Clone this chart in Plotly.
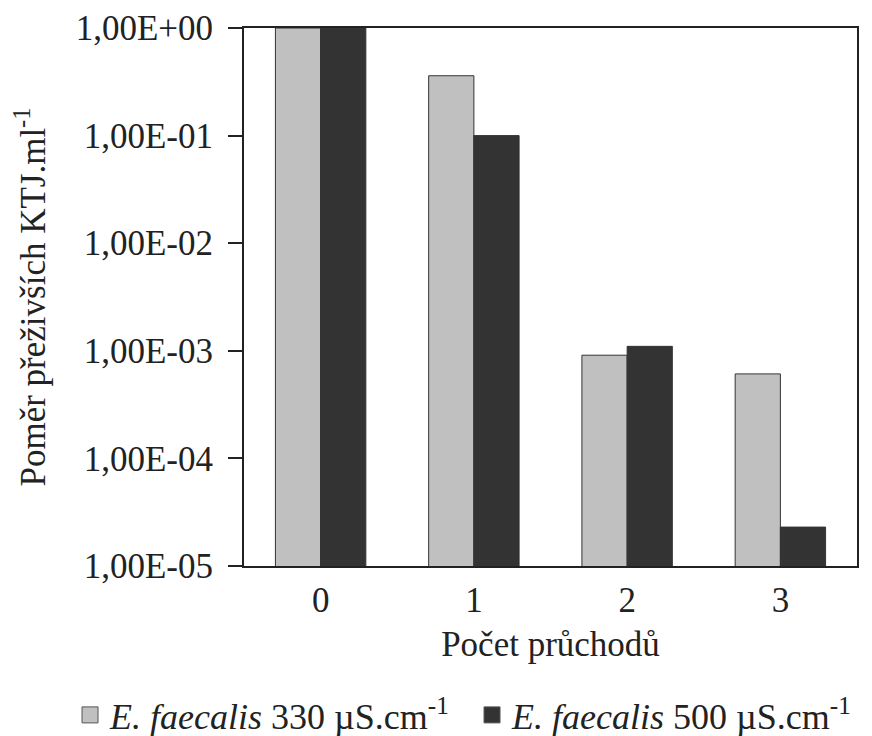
import plotly.graph_objects as go

categories = ["0", "1", "2", "3"]
series_330 = [1.0, 0.36, 9.1e-4, 6.1e-4]
series_500 = [1.0, 0.10, 1.1e-3, 2.3e-5]
tick_vals = [1, 1e-1, 1e-2, 1e-3, 1e-4, 1e-5]
tick_text = ["1,00E+00", "1,00E-01", "1,00E-02", "1,00E-03", "1,00E-04", "1,00E-05"]
name_330 = "<i>E. faecalis</i> 330 µS.cm<sup>-1</sup>"
name_500 = "<i>E. faecalis</i> 500 µS.cm<sup>-1</sup>"
color_330 = "#c0c0c0"
color_500 = "#333333"

font = "Liberation Serif, serif"
fs = 35

fig = go.Figure()
fig.add_trace(go.Bar(x=categories, y=series_330, name=name_330, showlegend=False,
                     marker=dict(color=color_330, line=dict(color="#333333", width=1))))
fig.add_trace(go.Bar(x=categories, y=series_500, name=name_500, showlegend=False,
                     marker=dict(color=color_500, line=dict(color="#333333", width=1))))
# legend entries (square swatches like the reference)
for nm, col in [(name_330, color_330), (name_500, color_500)]:
    fig.add_trace(go.Scatter(x=[None], y=[None], mode="markers", name=nm,
                             marker=dict(symbol="square", size=22, color=col,
                                         line=dict(color="#555555", width=1))))

plot_top = 20
plot_bottom = 170
plot_h = 728 - plot_top - plot_bottom
leg_y = (728 - plot_bottom - 707) / plot_h

fig.update_layout(
    width=864, height=728,
    margin=dict(l=236, r=15, t=plot_top, b=plot_bottom, autoexpand=False),
    paper_bgcolor="white", plot_bgcolor="white",
    barmode="group", bargap=0.41, bargroupgap=0,
    font=dict(family=font, size=fs, color="#222222"),
    showlegend=True,
    legend=dict(orientation="h", xref="paper", yref="paper",
                x=-0.2838, xanchor="left", y=leg_y, yanchor="middle",
                font=dict(size=36), itemwidth=30, traceorder="normal",
                entrywidth=357, entrywidthmode="pixels"),
    xaxis=dict(
        automargin=False,
        showline=True, linecolor="#222222", linewidth=2, mirror=True,
        ticks="", showgrid=False, ticklabelstandoff=2,
        title=dict(text="Počet průchodů", standoff=12, font=dict(size=fs)),
    ),
    yaxis=dict(
        automargin=False,
        type="log", range=[-5, 0],
        tickvals=tick_vals, ticktext=tick_text, ticklabeloverflow="allow",
        showline=True, linecolor="#222222", linewidth=2, mirror=True,
        ticks="outside", ticklen=14, tickwidth=2, tickcolor="#222222",
        ticklabelstandoff=8,
        showgrid=False,
        title=dict(text="Poměr přeživších KTJ.ml<sup>-1</sup>", standoff=31, font=dict(size=fs)),
    ),
)

fig.write_html("out.html")
